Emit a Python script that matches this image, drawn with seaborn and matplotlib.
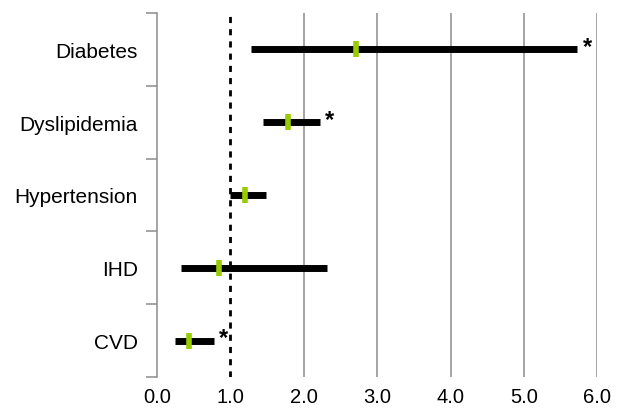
import matplotlib
matplotlib.use("Agg")
import matplotlib.pyplot as plt
import numpy as np
import pandas as pd
import seaborn as sns

# data
conditions = ['Diabetes', 'Dyslipidemia', 'Hypertension', 'IHD', 'CVD']
estimate = [2.71, 1.78, 1.20, 0.85, 0.44]
ci_low = [1.28, 1.44, 1.00, 0.32, 0.24]
ci_high = [5.73, 2.22, 1.49, 2.31, 0.77]
significant = [True, True, False, False, True]
x_ticks = [0, 1, 2, 3, 4, 5, 6]

df = pd.DataFrame({'condition': conditions, 'estimate': estimate,
                   'low': ci_low, 'high': ci_high, 'sig': significant})
df['pos'] = np.arange(len(df))

sns.set_style('white')
plt.rcParams['font.family'] = ['Liberation Sans', 'DejaVu Sans']

fig, ax = plt.subplots(figsize=(6.26, 4.10), dpi=100)
fig.subplots_adjust(left=0.251, right=0.954, top=0.966, bottom=0.078)

# vertical grid lines
for x in x_ticks[2:]:
    ax.axvline(x, color='#8c8c8c', lw=1.1, zorder=0)
ax.axvline(1, color='black', lw=2, ls=(0, (2.2, 2.2)), zorder=1)

# confidence intervals
ax.hlines(df['pos'], df['low'], df['high'], color='black', lw=5, zorder=2)
sns.scatterplot(data=df, x='estimate', y='pos', marker='|', s=140,
                linewidth=4, color='#99cc00', ax=ax, zorder=3, legend=False)

for _, r in df[df['sig']].iterrows():
    ax.text(r['high'] + 0.07, r['pos'] - 0.04, '*', fontsize=17,
            fontweight='bold', ha='left', va='center', color='black')

ax.set_xlim(0, 6)
ax.set_ylim(len(df) - 0.5, -0.5)
ax.set_xticks(x_ticks)
ax.set_xticklabels([f'{v:.1f}' for v in x_ticks], fontsize=14.5, color='black')
ax.set_yticks(df['pos'])
ax.set_yticklabels(conditions, fontsize=15, color='black')
ax.set_yticks(np.arange(-0.5, len(df)), minor=True)
ax.tick_params(axis='y', which='major', left=False, length=0, pad=14)
ax.tick_params(axis='y', which='minor', left=True, length=8,
               color='#8c8c8c', width=1.1)
ax.tick_params(axis='x', length=0, pad=7)
ax.set_xlabel('')
ax.set_ylabel('')

for s in ['top', 'right', 'bottom']:
    ax.spines[s].set_visible(False)
ax.spines['left'].set_color('#8c8c8c')
ax.spines['left'].set_linewidth(1.1)

fig.savefig('out.png', dpi=100)
